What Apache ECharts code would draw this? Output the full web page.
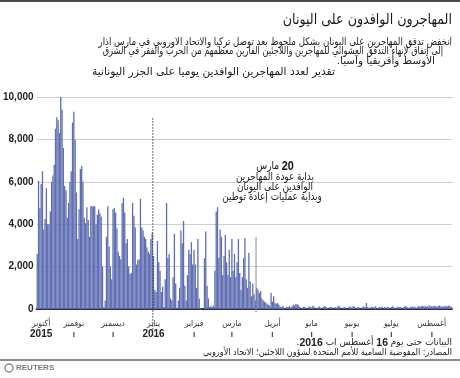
<!DOCTYPE html>
<html>
<head>
<meta charset="utf-8">
<script src="https://cdn.jsdelivr.net/npm/echarts@6/dist/echarts.min.js"></script>
<style>
  html, body { margin: 0; padding: 0; background: #fff; }
  #chart { width: 460px; height: 378px; }
</style>
</head>
<body>
<div id="chart"></div>
<script>
// daily estimated arrivals on the Greek islands, first day = startDate
var startDate = '2015-10-04';
var arrivals = [
  2600, 6050, 4750, 5900, 6500, 3750, 4250, 5700, 4000, 4000, 4600, 6000,
  6300, 6800, 8500, 9050, 8900, 8300, 10000, 9400, 7600, 5800, 5600, 4300,
  5000, 6000, 6500, 8800, 9300, 8000, 5500, 3300, 4700, 6600, 6750, 6000,
  4300, 4050, 4800, 4200, 3400, 4850, 4850, 4850, 4850, 4000, 4450, 4700,
  4500, 4350, 2000, 100, 400, 3400, 4850, 2950, 2000, 1400, 4700, 4750,
  4550, 3800, 2700, 2500, 2350, 5000, 5250, 4550, 3100, 3300, 2000, 1650,
  1700, 5000, 4400, 3850, 2100, 2300, 2350, 5200, 3850, 3700, 3400, 3300,
  2900, 2700, 2600, 3300, 3600, 2500, 900, 800, 3200, 2200, 1800, 800,
  1050, 100, 1400, 5000, 2400, 2600, 500, 400, 1500, 3550, 1200, 20,
  400, 1000, 3700, 3100, 4150, 1100, 400, 1600, 2800, 2600, 3150, 2100,
  2800, 2100, 1000, 3300, 500, 50, 0, 0, 2400, 3650, 1100, 500,
  100, 150, 100, 150, 1800, 4600, 4800, 2400, 3750, 3400, 1600, 2500,
  3500, 2200, 1600, 2800, 1500, 3300, 1800, 2600, 1500, 2200, 3300, 1700,
  900, 1500, 2400, 3350, 1400, 1000, 2650, 1300, 600, 1200, 700, 400,
  1000, 900, 750, 850, 500, 400, 350, 300, 250, 200, 150, 750,
  350, 600, 270, 250, 280, 200,
  120, 80, 150, 60, 0, 110, 90, 140, 70, 130, 200, 160,
  250, 220, 180, 90, 0, 60, 120, 100, 40, 0, 130, 90,
  70, 150, 110, 0, 50, 80, 120, 60, 0, 100, 140, 90,
  60, 0, 80, 110, 70, 0, 90, 60, 130, 150, 80, 0,
  60, 100, 70, 0, 0, 120, 90, 60, 140, 110, 0, 70,
  100, 60, 0, 90, 120, 80, 280, 100, 60, 0, 110, 90,
  70, 130, 0, 60, 100, 80, 120, 0, 90, 60, 110, 70,
  0, 100, 130, 80, 60, 0, 120, 90, 100, 0, 70, 110,
  140, 90, 60, 0, 100, 130, 80, 120, 60, 90, 140, 110,
  130, 150, 120, 140, 100, 130, 160, 110, 140, 120, 150, 130,
  110, 140, 160, 120, 130, 100, 150, 140, 120, 160, 130, 110
];
var monthNames = ['يناير', 'فبراير', 'مارس', 'أبريل', 'مايو', 'يونيو',
  'يوليو', 'أغسطس', 'سبتمبر', 'أكتوبر', 'نوفمبر', 'ديسمبر'];
var yearLabels = { '2015-10': '2015', '2016-01': '2016' };
var yTicks = [0, 2000, 4000, 6000, 8000, 10000];
var janLine = { date: '2016-01-01', top: 9000 };
var marchLine = { date: '2016-03-20', top: 3400 };

var days = [];
var d0 = new Date(startDate + 'T00:00:00Z');
for (var i = 0; i < arrivals.length; i++) {
  var d = new Date(d0.getTime() + i * 86400000);
  days.push(d.toISOString().slice(0, 10));
}

var AR = 'DejaVu Sans Condensed, DejaVu Sans';
var LAT = 'Liberation Sans, Arial';

var chart = echarts.init(document.getElementById('chart'));
var option = {
  backgroundColor: '#fff',
  animation: false,
  grid: { left: 30, right: 8, top: 97, bottom: 69 },
  xAxis: {
    type: 'category',
    data: days,
    boundaryGap: true,
    axisLine: { lineStyle: { color: '#27305e', width: 2 } },
    axisTick: { show: false },
    axisLabel: {
      margin: 10,
      interval: function (index, value) {
        return index === 3 || value.slice(8) === '01';
      },
      formatter: function (value) {
        var m = +value.slice(5, 7) - 1;
        var key = value.slice(0, 7);
        var second = yearLabels[key] ? '{y|' + yearLabels[key] + '}' : '{t|I}';
        return '{m|' + monthNames[m] + '}\n' + second;
      },
      rich: {
        m: { fontFamily: AR, fontSize: 8.5, color: '#333', lineHeight: 10 },
        y: { fontFamily: LAT, fontSize: 10, fontWeight: 'bold', color: '#222', lineHeight: 11 },
        t: { fontFamily: LAT, fontSize: 8, fontWeight: 'bold', color: '#444', lineHeight: 11 }
      }
    }
  },
  yAxis: {
    type: 'value',
    min: yTicks[0],
    max: yTicks[yTicks.length - 1],
    interval: yTicks[1] - yTicks[0],
    axisLine: { show: false },
    axisTick: { show: false },
    splitLine: { lineStyle: { color: '#cfcfcf', width: 1 } },
    axisLabel: {
      margin: 3,
      fontFamily: LAT,
      fontSize: 10,
      fontWeight: 'bold',
      color: '#222',
      formatter: function (v) { return v.toLocaleString('en-US'); }
    }
  },
  series: [{
    type: 'bar',
    data: arrivals,
    barCategoryGap: '0%',
    itemStyle: { color: '#5f6fb2' },
    z: 1
  }]
};
chart.setOption(option);

// reference lines and texts, placed from the axes
var band = (460 - 30 - 8) / arrivals.length;
var jx = chart.convertToPixel({ xAxisIndex: 0 }, janLine.date) - band / 2;
var jy = chart.convertToPixel({ yAxisIndex: 0 }, janLine.top);
var mx = chart.convertToPixel({ xAxisIndex: 0 }, marchLine.date) - band / 2;
var my = chart.convertToPixel({ yAxisIndex: 0 }, marchLine.top);
var y0 = chart.convertToPixel({ yAxisIndex: 0 }, 0);

// text squeezed horizontally around its anchor (the fonts here run wider than the original)
function txt(text, x, y, size, align, sx, extra) {
  var st = { text: text, x: 0, y: 0, fontFamily: AR, fontSize: size, fill: '#1a1a1a',
    textAlign: align || 'right', verticalAlign: 'middle' };
  for (var k in extra) st[k] = extra[k];
  return { type: 'text', x: x, y: y, scaleX: sx || 1, style: st, z: 10 };
}

var note = { a: { fontFamily: AR, fontSize: 11, fill: '#111' },
  b: { fontFamily: LAT, fontSize: 12, fontWeight: 'bold', fill: '#111' } };
var foot = { b: { fontFamily: LAT, fontSize: 10, fontWeight: 'bold', fill: '#222' } };

var graphics = [
  { type: 'rect', shape: { x: 0, y: 0, width: 460, height: 2 }, style: { fill: '#4a4a4a' } },
  txt('المهاجرون الوافدون على اليونان', 452, 20, 15, 'right', 0.94),
  txt('انخفض تدفق المهاجرين على اليونان بشكل ملحوظ بعد توصل تركيا والاتحاد الاوروبي في مارس اذار', 452, 42, 10.5, 'right', 0.915),
  txt('إلى اتفاق لإنهاء التدفق العشوائي للمهاجرين واللاجئين الفارين معظمهم من الحرب والفقر في الشرق', 443, 51.5, 10.5, 'right', 0.87),
  txt('الأوسط وأفريقيا وآسيا.\u200F', 435, 61, 10.5, 'right', 1.1),
  txt('تقدير لعدد المهاجرين الوافدين يوميا على الجزر اليونانية', 335, 72, 11, 'right', 1.08),
  { type: 'line', shape: { x1: jx, y1: jy, x2: jx, y2: y0 + 28 },
    style: { stroke: '#333', lineWidth: 1, lineDash: [1.5, 1.5] }, z: 5 },
  { type: 'line', shape: { x1: mx, y1: my, x2: mx, y2: y0 + 3 },
    style: { stroke: '#8a8a8a', lineWidth: 1 }, z: 5 },
  txt('{a|مارس }{b|20}', mx + 19, jy + 48, 11, 'center', 0.9, { rich: note }),
  txt('بداية عودة المهاجرين', mx + 19, jy + 59, 11, 'center', 0.9),
  txt('الوافدين على اليونان', mx + 19, jy + 69, 11, 'center', 0.9),
  txt('وبداية عمليات إعادة توطين', mx + 16, jy + 79, 11, 'center', 0.9),
  txt('.{b|2016} أغسطس اب {b|16} البيانات حتى يوم', 452, 343, 9.5, 'right', 1.05, { rich: foot }),
  txt('المصادر: المفوضية السامية للأمم المتحدة لشؤون اللاجئين؛ الاتحاد الأوروبي', 452, 353, 9, 'right', 1),
  { type: 'rect', shape: { x: 0, y: 359, width: 460, height: 2 }, style: { fill: '#8c8c8c' } },
  { type: 'circle', shape: { cx: 9, cy: 368, r: 4 }, style: { fill: 'none', stroke: '#8a8a8a', lineWidth: 1.5 } },
  { type: 'text', style: { text: 'REUTERS', x: 16, y: 368, fontFamily: LAT, fontSize: 8,
    fontWeight: 'bold', fill: '#7a7a7a', verticalAlign: 'middle' } }
];
chart.setOption({ graphic: graphics });
</script>
</body>
</html>
